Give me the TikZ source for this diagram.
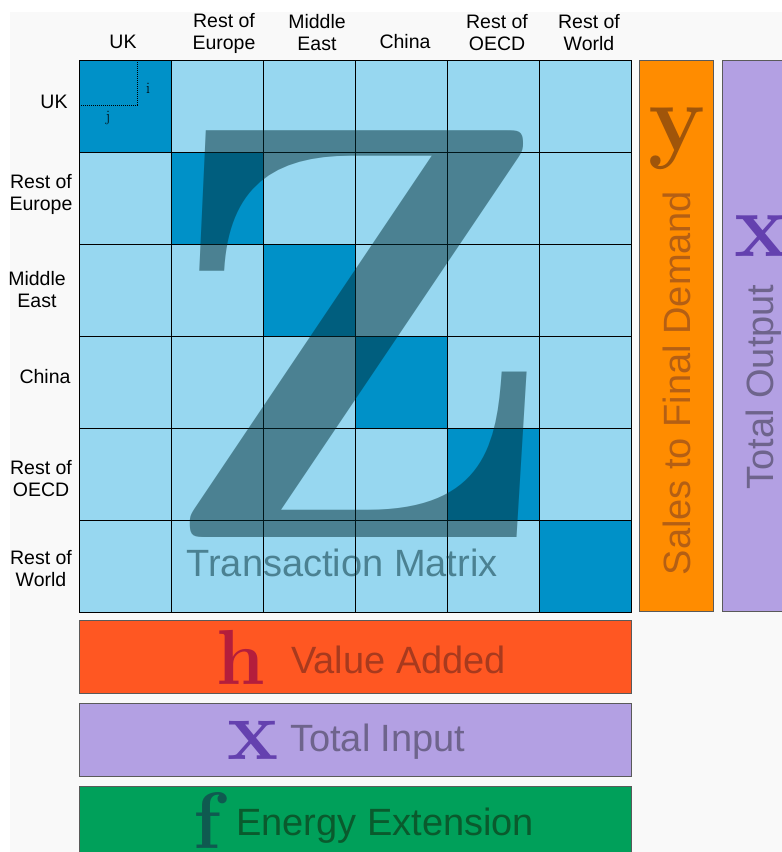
\documentclass[tikz,border=0pt]{standalone}
\usepackage{fontspec}
\newfontfamily\arial{Liberation Sans}
\definecolor{backgray}{HTML}{F9F9F9}
\definecolor{lightcell}{HTML}{97D7F0}
\definecolor{darkcell}{HTML}{0091C8}
\definecolor{zshade}{HTML}{002D35}
\definecolor{bargray}{HTML}{5A5A5A}
\definecolor{vabar}{HTML}{FF5722}
\definecolor{vatext}{HTML}{A83A1E}
\definecolor{hletter}{HTML}{B41E3C}
\definecolor{purplebar}{HTML}{B3A0E3}
\definecolor{xletter}{HTML}{6441AF}
\definecolor{purpletext}{HTML}{6E648C}
\definecolor{greenbar}{HTML}{00A05A}
\definecolor{fletter}{HTML}{0F5A50}
\definecolor{greentext}{HTML}{0A5A2D}
\definecolor{orangebar}{HTML}{FF8C00}
\definecolor{yletter}{HTML}{A0550A}
\definecolor{orangetext}{HTML}{B45F14}
\begin{document}
\begin{tikzpicture}[x=1pt, y=-1pt,
  cell/.style={draw=black, line width=0.6pt, minimum size=92pt, inner sep=0pt, outer sep=0pt, fill=lightcell},
  bar/.style={draw=bargray, line width=0.6pt, inner sep=0pt, outer sep=0pt},
  region/.style={font=\arial\fontsize{19.5}{22}\selectfont, align=center, inner sep=0pt},
  big/.style={font=\arial\fontsize{38}{40}\selectfont, inner sep=0pt},
  sym/.style={inner sep=0pt, anchor=base}]
\useasboundingbox (0,0) rectangle (782,852);
\clip (0,0) rectangle (782,852);
\fill [backgray] (10,12) rectangle (782,852);
% transaction matrix cells
\foreach \r in {1,...,6}
  \foreach \c in {1,...,6}
    \node [cell] (cell-\r-\c) at ({79+92*(\c-0.5)}, {60+92*(\r-0.5)}) {};
\foreach \i in {1,...,6}
  \node [cell, fill=darkcell] (cell-\i-\i) at ({79+92*(\i-0.5)}, {60+92*(\i-0.5)}) {};
% element i,j
\coordinate (ij) at (137,105);
\draw [densely dotted, line width=1pt] (cell-1-1.north west -| ij) -- (ij) -- (cell-1-1.west |- ij);
\node [sym, font=\fontsize{16}{16}\selectfont] (lbl-i) at (148,93) {i};
\node [sym, font=\fontsize{16}{16}\selectfont] (lbl-j) at (108,121) {j};
% big Z overlay
\node [sym, text=zshade, text opacity=0.5] (bigZ) at (357,537) {\fontsize{593}{600}\selectfont\bfseries Z};
\node [big, anchor=base, text=zshade, text opacity=0.5] (title) at (342,576) {Transaction Matrix};
% column headers
\node [region] (col-1) at (123,42) {UK};
\node [region] (col-2) at (224,33) {Rest of\\Europe};
\node [region] (col-3) at (317,33) {Middle\\East};
\node [region] (col-4) at (405,42) {China};
\node [region] (col-5) at (497,33) {Rest of\\OECD};
\node [region] (col-6) at (589,33) {Rest of\\World};
% row headers
\node [region] (row-1) at (54,102) {UK};
\node [region] (row-2) at (41,194) {Rest of\\Europe};
\node [region] (row-3) at (37,290) {Middle\\East};
\node [region] (row-4) at (45,377) {China};
\node [region] (row-5) at (41,479) {Rest of\\OECD};
\node [region] (row-6) at (41,569) {Rest of\\World};
% final demand and total output
\node [bar, fill=orangebar, minimum width=74pt, minimum height=551pt] (demand) at (676,335.5) {};
\node [sym, text=yletter, font=\fontsize{96}{96}\selectfont\bfseries] (y) at (677,150) {y};
\node [big, anchor=base, rotate=90, text=orangetext] (demand-lbl) at (690,383) {Sales to Final Demand};
\node [bar, fill=purplebar, minimum width=78pt, minimum height=551pt] (output) at (761,335.5) {};
\node [sym, text=xletter, font=\fontsize{92}{92}\selectfont\bfseries] (x-out) at (762,256) {x};
\node [big, anchor=base, rotate=90, text=purpletext] (output-lbl) at (773,387) {Total Output};
% value added, total input, energy
\node [bar, fill=vabar, minimum width=552pt, minimum height=73pt] (added) at (355,656.5) {};
\node [sym, text=hletter, font=\fontsize{78}{78}\selectfont\bfseries] (h) at (241,684) {h};
\node [big, anchor=base west, text=vatext] (added-lbl) at (291,673) {Value Added};
\node [bar, fill=purplebar, minimum width=552pt, minimum height=73pt] (input) at (355,739.5) {};
\node [sym, text=xletter, font=\fontsize{86}{86}\selectfont\bfseries] (x-in) at (253,759) {x};
\node [big, anchor=base west, text=purpletext] (input-lbl) at (290,751) {Total Input};
\node [bar, fill=greenbar, minimum width=552pt, minimum height=79pt] (energy) at (355,825.5) {};
\node [sym, text=fletter, font=\fontsize{80}{80}\selectfont\bfseries] (f) at (207,848) {f};
\node [big, anchor=base west, text=greentext] (energy-lbl) at (236,835) {Energy Extension};
\end{tikzpicture}
\end{document}
